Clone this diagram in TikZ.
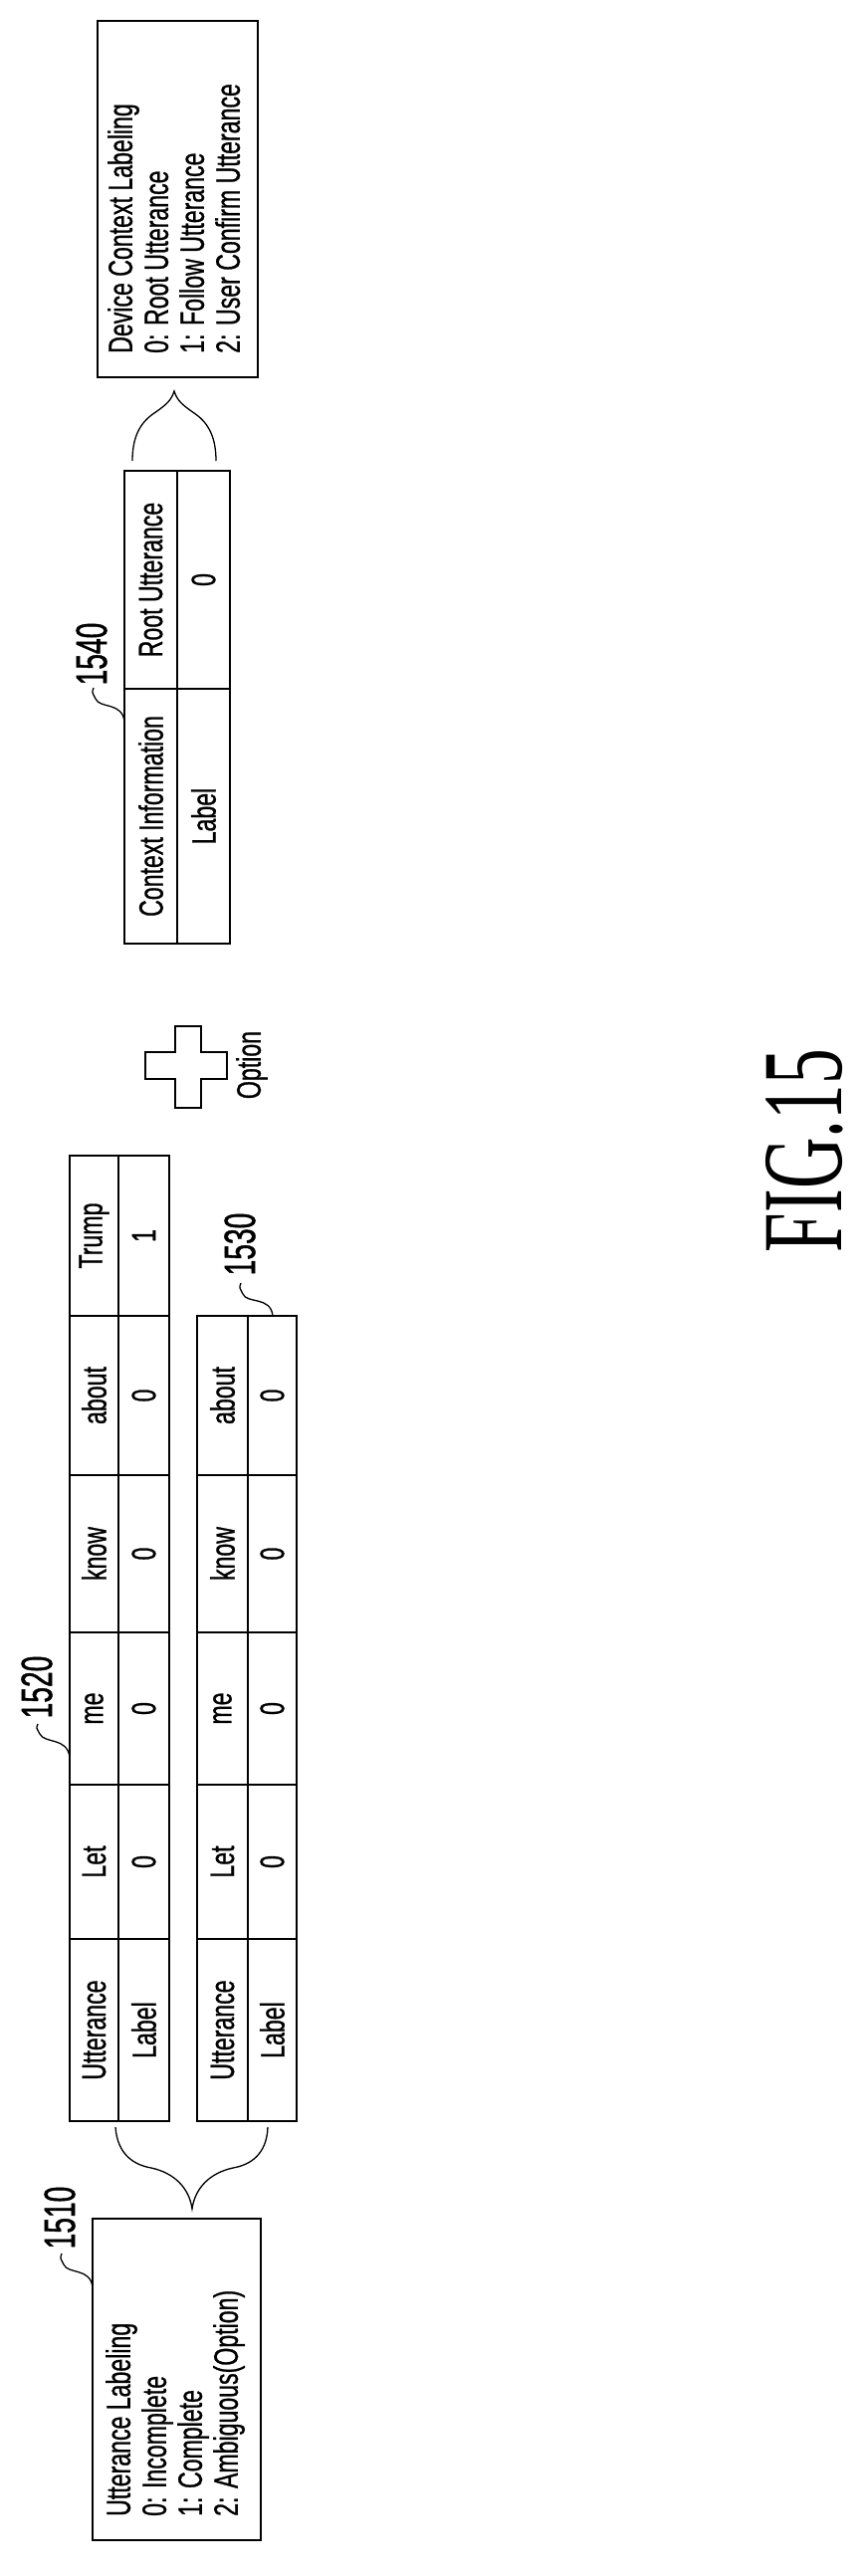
\documentclass[tikz,border=0pt]{standalone}
\usepackage{fontspec}
\setmainfont{Liberation Sans}
\newfontfamily\cond{Liberation Sans}[FakeStretch=0.68,FakeBold=0.8]
\newfontfamily\condnum{Liberation Sans}[FakeStretch=0.64,FakeBold=1]
\newfontfamily\figfont{Liberation Serif}[FakeStretch=0.62]
\begin{document}
\begin{tikzpicture}[x=1pt,y=-1pt,
  txt/.style={rotate=90,inner sep=0pt,font=\cond\fontsize{34}{36}\selectfont},
  refnum/.style={rotate=90,inner sep=0pt,font=\condnum\fontsize{44}{44}\selectfont},
  line/.style={line width=1.6pt},
  thin/.style={line width=1.3pt}]
\useasboundingbox (0,0) rectangle (867,2588);
% ---- Table 1520
\foreach \yt/\yb/\w/\l [count=\i] in {1948/2131/Utterance/Label,1793/1948/Let/0,1640/1793/me/0,1482/1640/know/0,1322/1482/about/0,1161/1322/Trump/1}{
  \draw[line] (70,\yt) rectangle (119,\yb);
  \draw[line] (119,\yt) rectangle (170,\yb);
  \node[txt] (a\i) at (94.5,{(\yt+\yb)/2}) {\w};
  \node[txt] (b\i) at (144.5,{(\yt+\yb)/2}) {\l};
}
% ---- Table 1530
\foreach \yt/\yb/\w/\l [count=\i] in {1948/2131/Utterance/Label,1793/1948/Let/0,1640/1793/me/0,1482/1640/know/0,1322/1482/about/0}{
  \draw[line] (198,\yt) rectangle (249,\yb);
  \draw[line] (249,\yt) rectangle (298,\yb);
  \node[txt] (c\i) at (223.5,{(\yt+\yb)/2}) {\w};
  \node[txt] (d\i) at (273.5,{(\yt+\yb)/2}) {\l};
}
% ---- Table 1540
\foreach \yt/\yb/\w/\l [count=\i] in {692/948/Context Information/Label,473/692/Root Utterance/0}{
  \draw[line] (125,\yt) rectangle (178,\yb);
  \draw[line] (178,\yt) rectangle (231,\yb);
  \node[txt] (e\i) at (151.5,{(\yt+\yb)/2}) {\w};
  \node[txt] (f\i) at (204.5,{(\yt+\yb)/2}) {\l};
}
% ---- Device context box
\draw[line] (98,21) rectangle (259,379);
\node[txt,anchor=north west,align=left] (dev) at (108,355) {Device Context Labeling\\0: Root Utterance\\1: Follow Utterance\\2: User Confirm Utterance};
% ---- Utterance labeling box
\draw[line] (93,2229) rectangle (262,2552);
\node[txt,anchor=north west,align=left] (utt) at (106,2528) {Utterance Labeling\\0: Incomplete\\1: Complete\\2: Ambiguous(Option)};
% ---- braces
\draw[thin] (133,463) .. controls (133,440) and (140,425) .. (155,415)
  .. controls (168,406) and (172,402) .. (175,393)
  .. controls (178,402) and (182,406) .. (195,415)
  .. controls (210,425) and (217,440) .. (217,463);
\draw[thin] (116,2137) .. controls (118,2165) and (135,2175) .. (152,2178)
  .. controls (175,2183) and (190,2198) .. (193,2219)
  .. controls (196,2198) and (211,2183) .. (234,2178)
  .. controls (251,2175) and (268,2165) .. (269,2137);
% ---- plus sign
\draw[line] (176,1031) -- (202,1031) -- (202,1057) -- (228,1057) -- (228,1084) -- (202,1084) -- (202,1113) -- (176,1113) -- (176,1084) -- (146,1084) -- (146,1057) -- (176,1057) -- cycle;
\node[txt] (opt) at (253,1070) {Option};
% ---- reference numerals with leaders
\node[refnum] (r1520) at (37,1695) {1520};
\draw[thin] (70,1765) .. controls (67,1745) and (45,1752) .. (40,1742) .. controls (37,1736) and (36,1737) .. (38,1732);
\node[refnum] (r1530) at (241,1250) {1530};
\draw[thin] (274,1322) .. controls (272,1302) and (248,1310) .. (244,1300) .. controls (241,1294) and (240,1294) .. (242,1289);
\node[refnum] (r1540) at (92,657) {1540};
\draw[thin] (125,725) .. controls (123,705) and (100,712) .. (96,702) .. controls (93,696) and (92,696) .. (94,691);
\node[refnum] (r1510) at (60,2228) {1510};
\draw[thin] (93,2298) .. controls (91,2278) and (68,2285) .. (64,2275) .. controls (61,2269) and (60,2269) .. (62,2264);
% ---- caption
\node[rotate=90,inner sep=0pt,font=\figfont\fontsize{115}{115}\selectfont] (fig) at (808,1156) {FIG.15};
\end{tikzpicture}
\end{document}
